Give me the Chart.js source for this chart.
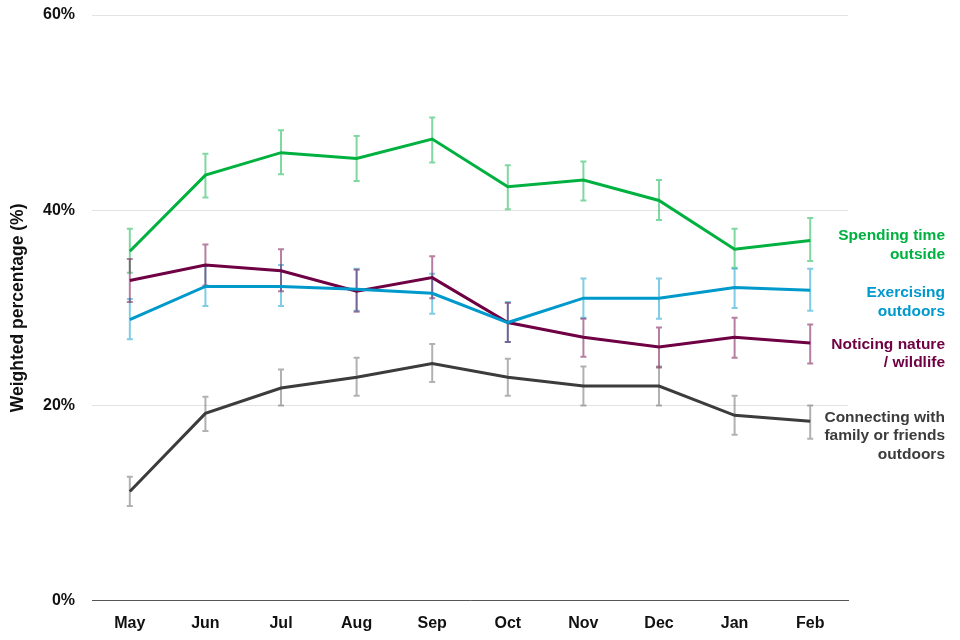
<!DOCTYPE html>
<html>
<head>
<meta charset="utf-8">
<script src="https://cdn.jsdelivr.net/npm/chart.js@4/dist/chart.umd.min.js"></script>
<style>
  html, body { margin: 0; padding: 0; background: #fff; }
  #wrap { width: 960px; height: 640px; }
</style>
</head>
<body>
<div id="wrap"><canvas id="grafico"></canvas></div>
<script>
// Datos
const months = ['May', 'Jun', 'Jul', 'Aug', 'Sep', 'Oct', 'Nov', 'Dec', 'Jan', 'Feb'];
const yTicks = [0, 20, 40, 60];

const spending = [35.8, 43.6, 45.9, 45.3, 47.3, 42.4, 43.1, 41.0, 36.0, 36.9];
const spendingLow = [33.6, 41.3, 43.7, 43.0, 44.9, 40.1, 41.0, 39.0, 34.1, 34.8];
const spendingHigh = [38.1, 45.8, 48.2, 47.6, 49.5, 44.6, 45.0, 43.1, 38.1, 39.2];

const exercising = [28.8, 32.2, 32.2, 31.9, 31.5, 28.5, 31.0, 31.0, 32.1, 31.8];
const exercisingLow = [26.8, 30.2, 30.2, 29.7, 29.4, 26.5, 29.0, 28.9, 30.0, 29.7];
const exercisingHigh = [30.9, 34.3, 34.4, 34.0, 33.5, 30.6, 33.0, 33.0, 34.0, 34.0];

const noticing = [32.8, 34.4, 33.8, 31.7, 33.1, 28.5, 27.0, 26.0, 27.0, 26.4];
const noticingLow = [30.6, 32.3, 31.7, 29.6, 31.0, 26.5, 25.0, 23.9, 24.9, 24.3];
const noticingHigh = [35.0, 36.5, 36.0, 33.9, 35.3, 30.5, 28.9, 28.0, 29.0, 28.3];

const connecting = [11.2, 19.2, 21.8, 22.9, 24.3, 22.9, 22.0, 22.0, 19.0, 18.4];
const connectingLow = [9.7, 17.4, 20.0, 21.0, 22.4, 21.0, 20.0, 20.0, 17.0, 16.6];
const connectingHigh = [12.7, 20.9, 23.7, 24.9, 26.3, 24.8, 24.0, 24.0, 21.0, 20.0];

// Etiquetas a la derecha (texto y altura en % donde va centrado)
const seriesNames = [
  ['Spending time', 'outside'],
  ['Exercising', 'outdoors'],
  ['Noticing nature', '/ wildlife'],
  ['Connecting with', 'family or friends', 'outdoors']
];
const nameAt = [36.4, 30.6, 25.3, 16.9];

const colores = ['#00b140', '#0099cc', '#6e0043', '#3c3c3c'];
const coloresBarra = ['rgba(0,177,64,0.5)', 'rgba(0,153,204,0.5)', 'rgba(110,0,67,0.5)', 'rgba(60,60,60,0.4)'];

const lows = [spendingLow, exercisingLow, noticingLow, connectingLow];
const highs = [spendingHigh, exercisingHigh, noticingHigh, connectingHigh];

const FONT = "'Liberation Sans', Arial, sans-serif";

// Barras de error, dibujadas antes de las lineas
const barrasError = {
  id: 'barrasError',
  beforeDatasetsDraw(chart) {
    const { ctx, scales: { x, y } } = chart;
    ctx.save();
    ctx.lineWidth = 2;
    lows.forEach((low, s) => {
      ctx.strokeStyle = coloresBarra[s];
      low.forEach((v, i) => {
        const px = x.getPixelForValue(i);
        const yTop = y.getPixelForValue(highs[s][i]);
        const yBot = y.getPixelForValue(v);
        ctx.beginPath();
        ctx.moveTo(px, yTop);
        ctx.lineTo(px, yBot);
        ctx.moveTo(px - 3, yTop);
        ctx.lineTo(px + 3, yTop);
        ctx.moveTo(px - 3, yBot);
        ctx.lineTo(px + 3, yBot);
        ctx.stroke();
      });
    });
    ctx.restore();
  }
};

// Nombres de las series a la derecha
const nombres = {
  id: 'nombres',
  afterDraw(chart) {
    const { ctx, chartArea, scales: { y } } = chart;
    ctx.save();
    ctx.font = 'bold 15.5px ' + FONT;
    ctx.textAlign = 'right';
    ctx.textBaseline = 'middle';
    const lh = 18.5;
    seriesNames.forEach((lineas, s) => {
      ctx.fillStyle = colores[s];
      const cy = y.getPixelForValue(nameAt[s]);
      const y0 = cy - (lineas.length - 1) * lh / 2;
      lineas.forEach((t, k) => ctx.fillText(t, chartArea.right + 97, y0 + k * lh));
    });
    ctx.restore();
  }
};

const datos = [spending, exercising, noticing, connecting];

new Chart(document.querySelector('#grafico'), {
  type: 'line',
  data: {
    labels: months,
    datasets: datos.map((d, s) => ({
      data: d,
      borderColor: colores[s],
      borderWidth: 3,
      pointRadius: 0,
      tension: 0,
      fill: false
    }))
  },
  options: {
    responsive: true,
    maintainAspectRatio: false,
    animation: false,
    layout: { padding: { top: 15, right: 112, bottom: -6, left: 8 } },
    plugins: { legend: { display: false }, tooltip: { enabled: false } },
    scales: {
      x: {
        offset: true,
        grid: { display: false, drawTicks: false },
        border: { display: true, color: '#555', width: 1 },
        ticks: { color: '#111', padding: 13, font: { family: FONT, size: 16, weight: 'bold' } }
      },
      y: {
        min: 0,
        max: 60,
        afterBuildTicks(axis) { axis.ticks = yTicks.map(v => ({ value: v })); },
        afterFit(axis) { axis.paddingTop = 0; },
        grid: { color: '#e3e3e3', drawTicks: false },
        border: { display: false },
        ticks: {
          color: '#111',
          padding: 17,
          font: { family: FONT, size: 16, weight: 'bold' },
          callback: v => v + '%'
        },
        title: {
          display: true,
          text: 'Weighted percentage (%)',
          color: '#111',
          font: { family: FONT, size: 17.5, weight: 'bold' },
          padding: { top: 0, bottom: -3 }
        }
      }
    }
  },
  plugins: [barrasError, nombres]
});
</script>
</body>
</html>
